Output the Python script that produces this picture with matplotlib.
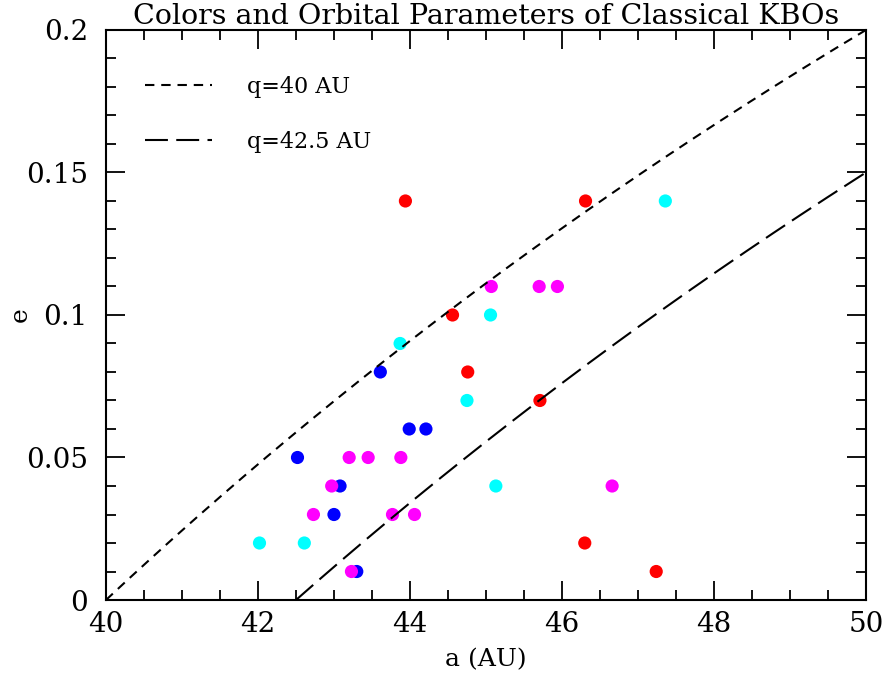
import numpy as np
import matplotlib
matplotlib.use("Agg")
import matplotlib.pyplot as plt
from matplotlib.ticker import MultipleLocator, FixedLocator, FixedFormatter

# data: semi-major axis a (AU) and eccentricity e, grouped by colour class
blue_a = [43.61, 43.99, 44.21, 42.52, 43.08, 43.00, 43.30]
blue_e = [0.08, 0.06, 0.06, 0.05, 0.04, 0.03, 0.01]

magenta_a = [45.07, 45.70, 45.94, 43.20, 43.45, 43.88, 42.97, 46.66, 42.73, 43.77, 44.06, 43.23]
magenta_e = [0.11, 0.11, 0.11, 0.05, 0.05, 0.05, 0.04, 0.04, 0.03, 0.03, 0.03, 0.01]

cyan_a = [47.36, 45.06, 43.87, 44.75, 45.13, 42.02, 42.61]
cyan_e = [0.14, 0.10, 0.09, 0.07, 0.04, 0.02, 0.02]

red_a = [43.94, 46.31, 44.56, 44.76, 45.71, 46.30, 47.24]
red_e = [0.14, 0.14, 0.10, 0.08, 0.07, 0.02, 0.01]

# perihelion curves q = a (1 - e)
q_values = [40.0, 42.5]
q_labels = ["q=40 AU", "q=42.5 AU"]

x_ticks = [40, 42, 44, 46, 48, 50]
x_ticklabels = ["40", "42", "44", "46", "48", "50"]
y_ticks = [0, 0.05, 0.1, 0.15, 0.2]
y_ticklabels = ["0", "0.05", "0.1", "0.15", "0.2"]

FONT = "DejaVu Serif"

fig = plt.figure(figsize=(8.89, 6.75), dpi=100)
ax = fig.add_axes([0.1192, 0.1111, 0.9741 - 0.1192, 0.9556 - 0.1111])

ms = 90
ax.scatter(blue_a, blue_e, s=ms, c="#0000ff", edgecolors="none", zorder=2)
ax.scatter(magenta_a, magenta_e, s=ms, c="#ff00ff", edgecolors="none", zorder=2)
ax.scatter(cyan_a, cyan_e, s=ms, c="#00ffff", edgecolors="none", zorder=2)
ax.scatter(red_a, red_e, s=ms, c="#ff0000", edgecolors="none", zorder=2)

styles = [(0, (4.5, 3.3)), (0, (11, 4))]
for q, lab, ls in zip(q_values, q_labels, styles):
    a = np.linspace(q, 50, 400)
    ax.plot(a, 1 - q / a, color="black", lw=1.5, linestyle=ls, label=lab, zorder=3)

ax.set_xlim(40, 50)
ax.set_ylim(0, 0.2)

ax.xaxis.set_major_locator(FixedLocator(x_ticks))
ax.xaxis.set_major_formatter(FixedFormatter(x_ticklabels))
ax.yaxis.set_major_locator(FixedLocator(y_ticks))
ax.yaxis.set_major_formatter(FixedFormatter(y_ticklabels))
ax.xaxis.set_minor_locator(MultipleLocator(0.5))
ax.yaxis.set_minor_locator(MultipleLocator(0.01))
ax.tick_params(which="both", direction="in", top=True, right=True, width=1.3, colors="black")
ax.tick_params(which="major", length=14)
ax.tick_params(which="minor", length=7)
ax.tick_params(axis="x", which="major", pad=8)
ax.tick_params(axis="y", which="major", pad=13)
for lbl in ax.get_xticklabels() + ax.get_yticklabels():
    lbl.set_fontfamily(FONT)
    lbl.set_fontsize(20)
for sp in ax.spines.values():
    sp.set_linewidth(1.5)

ax.set_xlabel("a (AU)", fontfamily=FONT, fontsize=18, labelpad=7)
ax.set_ylabel("e", fontfamily=FONT, fontsize=18, labelpad=-4)
ax.set_title("Colors and Orbital Parameters of Classical KBOs", fontfamily=FONT,
             fontsize=20.5, pad=2)

leg = ax.legend(loc="upper left", bbox_to_anchor=(0.025, 0.955), frameon=False,
                handlelength=3.0, handletextpad=1.6, labelspacing=1.5,
                prop={"family": FONT, "size": 16})

fig.savefig("out.png", dpi=100)
